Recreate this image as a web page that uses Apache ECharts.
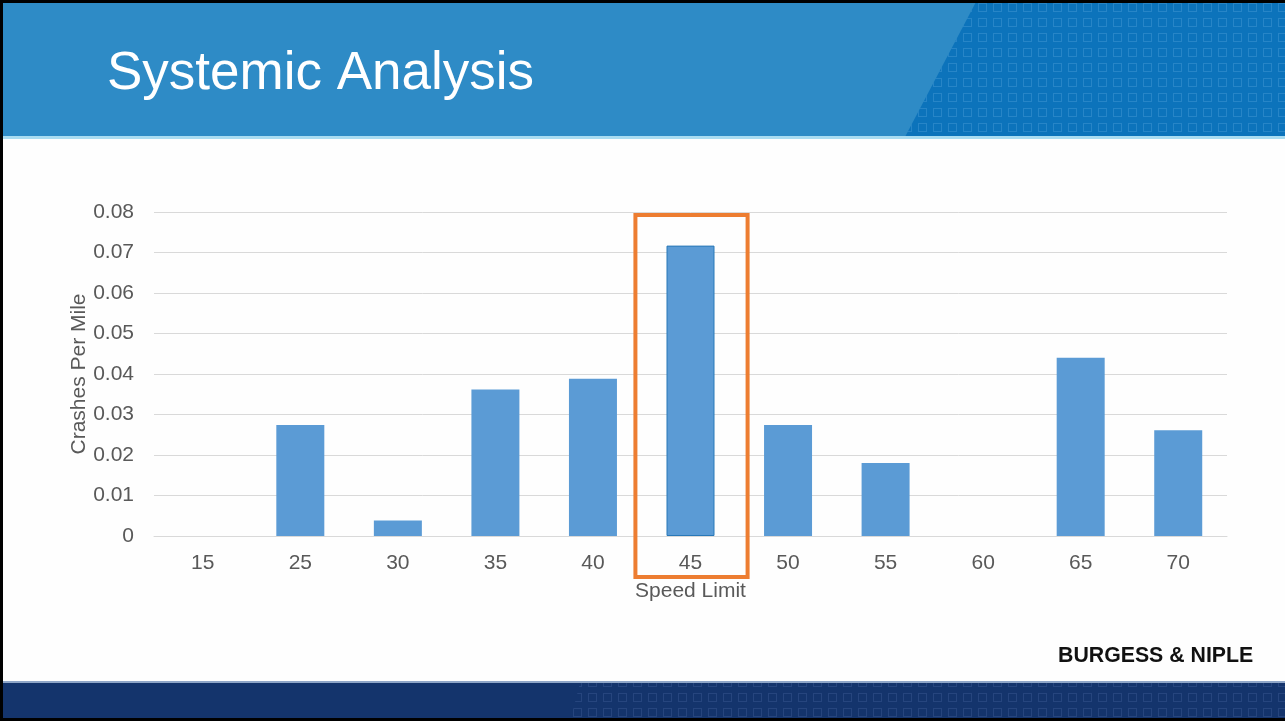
<!DOCTYPE html>
<html>
<head>
<meta charset="utf-8">
<script src="https://cdn.jsdelivr.net/npm/echarts@6/dist/echarts.min.js"></script>
<style>
html,body{margin:0;padding:0;background:#fefefe;}
#chart{width:1285px;height:721px;}
</style>
</head>
<body>
<div id="chart"></div>
<script>
// ---- data ----
const categories = ['15', '25', '30', '35', '40', '45', '50', '55', '60', '65', '70'];
const crashesPerMile = [0, 0.0274, 0.0038, 0.0362, 0.0388, 0.0717, 0.0274, 0.0180, 0, 0.0440, 0.0261];
const highlightCategory = '45';
const yTicks = { min: 0, max: 0.08, interval: 0.01 };
const titleText = 'Systemic Analysis';
const xAxisName = 'Speed Limit';
const yAxisName = 'Crashes Per Mile';
const logoText = 'BURGESS & NIPLE';

// ---- pattern tile for the decorative bands ----
function makeTile(stroke) {
  const c = document.createElement('canvas');
  c.width = 15; c.height = 15;
  const ctx = c.getContext('2d');
  ctx.strokeStyle = stroke;
  ctx.lineWidth = 1;
  ctx.strokeRect(3.5, 3.5, 8, 8);
  return c;
}
const headerTile = makeTile('rgba(110,180,230,0.28)');
const footerTile = makeTile('rgba(90,120,180,0.25)');

const FONT = "'Liberation Sans', Arial, sans-serif";
const chart = echarts.init(document.getElementById('chart'), null, { renderer: 'canvas' });

const data = crashesPerMile.map((v, i) => categories[i] === highlightCategory
  ? { value: v, itemStyle: { borderColor: '#2878b8', borderWidth: 1 } }
  : { value: v });

const bgGraphics = [
  { type: 'rect', z: -10, silent: true, shape: { x: 0, y: 0, width: 1285, height: 721 }, style: { fill: '#fefefe' } },
  // header
  { type: 'rect', z: -9, silent: true, shape: { x: 0, y: 0, width: 1285, height: 137 }, style: { fill: '#2e8bc6' } },
  { type: 'polygon', z: -8, silent: true, shape: { points: [[977, 0], [1285, 0], [1285, 137], [905, 137]] }, style: { fill: '#0c73bb' } },
  { type: 'polygon', z: -7, silent: true, shape: { points: [[977, 0], [1285, 0], [1285, 137], [905, 137]] }, style: { fill: { image: headerTile, repeat: 'repeat' } } },
  { type: 'rect', z: -6, silent: true, shape: { x: 0, y: 136, width: 1285, height: 3 }, style: { fill: '#a9dcf1' } },
  // footer
  { type: 'rect', z: -9, silent: true, shape: { x: 0, y: 683, width: 1285, height: 38 }, style: { fill: '#14346c' } },
  { type: 'polygon', z: -7, silent: true, shape: { points: [[580, 683], [1285, 683], [1285, 721], [570, 721]] }, style: { fill: { image: footerTile, repeat: 'repeat' } } },
  { type: 'rect', z: -6, silent: true, shape: { x: 0, y: 681, width: 1285, height: 2 }, style: { fill: '#8fa6c8' } },
  // black frame
  { type: 'rect', z: 50, silent: true, shape: { x: 0, y: 0, width: 1285, height: 3 }, style: { fill: '#000' } },
  { type: 'rect', z: 50, silent: true, shape: { x: 0, y: 0, width: 3, height: 721 }, style: { fill: '#000' } },
  { type: 'rect', z: 50, silent: true, shape: { x: 0, y: 718, width: 1285, height: 3 }, style: { fill: '#000' } },
  // title
  { type: 'text', z: 5, silent: true, style: { text: titleText, x: 107, y: 74, fill: '#ffffff', font: '53px ' + FONT, align: 'left', verticalAlign: 'middle' } },
  // logo
  { type: 'text', z: 5, silent: true, style: { text: logoText, x: 1058, y: 656, fill: '#111111', font: 'bold 21.3px ' + FONT, align: 'left', verticalAlign: 'middle' } }
];

const option = {
  animation: false,
  backgroundColor: 'transparent',
  textStyle: { fontFamily: FONT },
  grid: { left: 154, right: 58, top: 212, bottom: 185, containLabel: false },
  xAxis: {
    type: 'category',
    data: categories,
    axisLine: { show: true, lineStyle: { color: '#d9d9d9', width: 1 } },
    axisTick: { show: false },
    axisLabel: { color: '#595959', fontSize: 21, margin: 17, fontFamily: FONT },
    name: xAxisName,
    nameLocation: 'middle',
    nameGap: 45,
    nameMoveOverlap: false,
    nameTextStyle: { color: '#595959', fontSize: 21, fontFamily: FONT }
  },
  yAxis: {
    type: 'value',
    min: yTicks.min,
    max: yTicks.max,
    interval: yTicks.interval,
    axisLine: { show: false },
    axisTick: { show: false },
    splitLine: { lineStyle: { color: '#d9d9d9', width: 1 } },
    axisLabel: {
      color: '#595959', fontSize: 21, margin: 20, fontFamily: FONT,
      formatter: v => (Math.abs(v) < 1e-9 ? '0' : v.toFixed(2))
    },
    name: yAxisName,
    nameLocation: 'middle',
    nameGap: 64,
    nameMoveOverlap: false,
    nameRotate: 90,
    nameTextStyle: { color: '#595959', fontSize: 21, fontFamily: FONT }
  },
  series: [{
    type: 'bar',
    data: data,
    barWidth: 48,
    itemStyle: { color: '#5b9bd5' },
    silent: true
  }],
  graphic: bgGraphics
};

chart.setOption(option);

// highlight box around the chosen category, positioned through the axes
const cx = chart.convertToPixel({ xAxisIndex: 0 }, highlightCategory);
const cx2 = chart.convertToPixel({ xAxisIndex: 0 }, categories[categories.indexOf(highlightCategory) + 1]);
const band = cx2 - cx;
const yTop = chart.convertToPixel({ yAxisIndex: 0 }, yTicks.max);
const yZero = chart.convertToPixel({ yAxisIndex: 0 }, yTicks.min);
const half = band * 0.575;
chart.setOption({
  graphic: bgGraphics.concat([{
    type: 'rect', z: 20, silent: true,
    shape: { x: cx + 1 - half, y: yTop + 3, width: half * 2, height: (yZero - yTop) + 38 },
    style: { fill: 'none', stroke: '#ed7d31', lineWidth: 4 }
  }])
});
</script>
</body>
</html>
